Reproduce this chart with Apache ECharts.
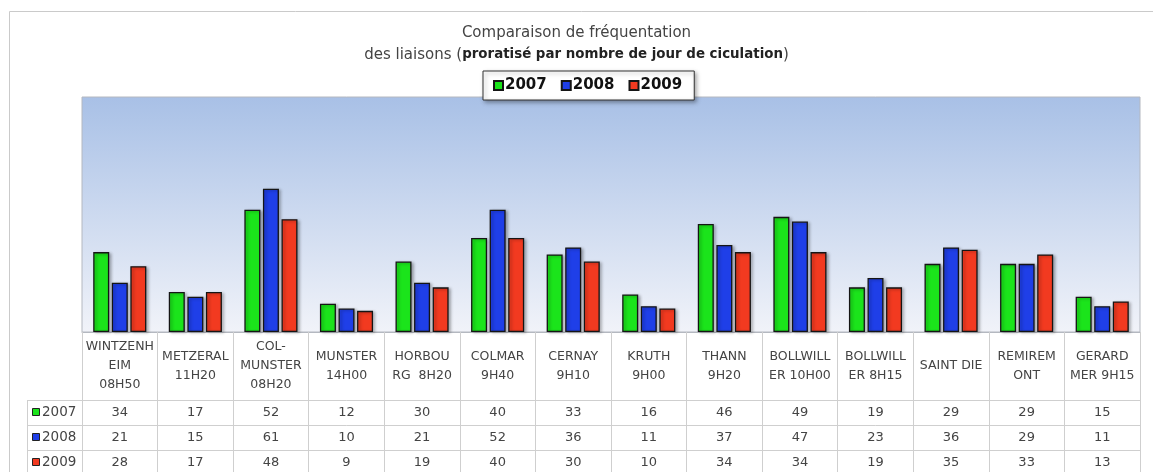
<!DOCTYPE html>
<html>
<head>
<meta charset="utf-8">
<script src="https://cdn.jsdelivr.net/npm/echarts@6/dist/echarts.min.js"></script>
<style>
  html, body { margin: 0; padding: 0; background: #fff; }
  #main { width: 1153px; height: 472px; }
</style>
</head>
<body>
<div id="main"></div>
<script>
// catégories (liaisons)
const categories = [
  'WINTZENH\nEIM\n08H50', 'METZERAL\n11H20', 'COL-\nMUNSTER\n08H20', 'MUNSTER\n14H00',
  'HORBOU\nRG  8H20', 'COLMAR\n9H40', 'CERNAY\n9H10', 'KRUTH\n9H00', 'THANN\n9H20',
  'BOLLWILL\nER 10H00', 'BOLLWILL\nER 8H15', 'SAINT DIE', 'REMIREM\nONT', 'GERARD\nMER 9H15'
];
const years = ['2007', '2008', '2009'];
// valeurs par année
const v2007 = [34, 17, 52, 12, 30, 40, 33, 16, 46, 49, 19, 29, 29, 15];
const v2008 = [21, 15, 61, 10, 21, 52, 36, 11, 37, 47, 23, 36, 29, 11];
const v2009 = [28, 17, 48, 9, 19, 40, 30, 10, 34, 34, 19, 35, 33, 13];

const values = [v2007, v2008, v2009];
const colors = ['#1be41b', '#1f3fe8', '#f23a20'];
const font = 'DejaVu Sans';

var myChart = echarts.init(document.getElementById('main'));

// lignes du tableau de données : un axe x par année
const tableAxes = years.map((y, k) => ({
  type: 'category',
  data: categories,
  position: 'bottom',
  offset: 68 + k * 25,
  axisLine: { show: true, lineStyle: { color: '#cfcfcf', width: 1 } },
  axisTick: { show: true, length: 25, interval: 0, lineStyle: { color: '#cfcfcf' } },
  axisLabel: {
    interval: 0, margin: 12.5, verticalAlign: 'middle',
    fontFamily: font, fontSize: 13, color: '#444',
    formatter: (v, i) => String(values[k][i])
  }
}));

// colonne de gauche du tableau (légende des lignes)
const leftCol = [];
leftCol.push({ type: 'line', shape: { x1: 27.5, y1: 400, x2: 27.5, y2: 472 }, style: { stroke: '#cfcfcf' } });
years.forEach((y, k) => {
  const top = 400 + k * 25;
  leftCol.push({ type: 'line', shape: { x1: 27, y1: top + 0.5, x2: 82, y2: top + 0.5 }, style: { stroke: '#cfcfcf' } });
  leftCol.push({ type: 'rect', shape: { x: 32.5, y: top + 8.5, width: 7, height: 7 }, style: { fill: colors[k], stroke: '#222', lineWidth: 1 } });
  leftCol.push({ type: 'text', x: 42, y: top + 12.5, style: { text: y, font: '13.5px ' + font, fill: '#444', verticalAlign: 'middle' } });
});

myChart.setOption({
  animation: false,
  title: {
    left: 'center',
    top: 22,
    padding: 0,
    text: '{n|Comparaison de fréquentation}\n{n|des liaisons (}{b|proratisé par nombre de jour de ciculation}{n|)}',
    textStyle: {
      fontFamily: font, fontSize: 15, fontWeight: 'normal', color: '#444', lineHeight: 22,
      rich: {
        n: { fontFamily: font, fontSize: 15, fontWeight: 'normal', color: '#444', lineHeight: 22 },
        b: { fontFamily: font, fontSize: 13.4, fontWeight: 'bold', color: '#222', lineHeight: 22 }
      }
    }
  },
  legend: {
    left: 483, top: 71,
    padding: [7, 12, 7, 10],
    itemWidth: 9, itemHeight: 9, itemGap: 14,
    icon: 'rect',
    backgroundColor: '#fff',
    borderColor: '#333', borderWidth: 1,
    shadowBlur: 4, shadowOffsetX: 2, shadowOffsetY: 2, shadowColor: 'rgba(0,0,0,0.35)',
    textStyle: { fontFamily: font, fontSize: 15, fontWeight: 'bold', color: '#111', padding: [0, 0, 0, -3] },
    data: years
  },
  grid: {
    left: 82, right: 13, top: 97, bottom: 140,
    show: true,
    borderColor: '#b4b8c0', borderWidth: 1,
    backgroundColor: new echarts.graphic.LinearGradient(0, 0, 0, 1, [
      { offset: 0, color: '#a8c0e6' },
      { offset: 1, color: '#f1f3f9' }
    ])
  },
  xAxis: [{
    type: 'category',
    data: categories,
    axisLine: { show: true, lineStyle: { color: '#b4b8c0' } },
    axisTick: { show: true, length: 68, interval: 0, lineStyle: { color: '#cfcfcf' } },
    axisLabel: {
      interval: 0, margin: 34, verticalAlign: 'middle',
      fontFamily: font, fontSize: 12.5, lineHeight: 19, color: '#444', align: 'center'
    }
  }].concat(tableAxes),
  yAxis: { type: 'value', min: 0, max: 100, show: false, splitLine: { show: false } },
  series: years.map((y, k) => ({
    name: y,
    type: 'bar',
    data: values[k],
    barWidth: 16,
    barGap: '16%',
    itemStyle: {
      color: colors[k],
      borderColor: '#151515', borderWidth: 1.3,
      shadowBlur: 3, shadowOffsetX: 2, shadowOffsetY: 1, shadowColor: 'rgba(0,0,0,0.3)'
    }
  })),
  graphic: [
    { type: 'rect', z: -10, shape: { x: 9.5, y: 11.5, width: 1200, height: 500 }, style: { fill: 'none', stroke: '#cacaca', lineWidth: 1 } }
  ].concat(leftCol)
});
</script>
</body>
</html>
